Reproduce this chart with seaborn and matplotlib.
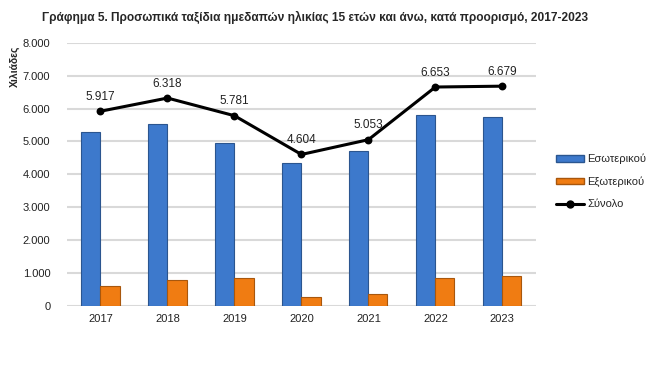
import matplotlib
matplotlib.use("Agg")
import matplotlib.pyplot as plt
from matplotlib.patches import Patch
from matplotlib.lines import Line2D
import seaborn as sns
import pandas as pd

YEARS = ["2017", "2018", "2019", "2020", "2021", "2022", "2023"]
DOMESTIC = [5300, 5525, 4945, 4335, 4700, 5800, 5755]
ABROAD = [617, 793, 836, 269, 353, 853, 924]
TOTAL = [5917, 6318, 5781, 4604, 5053, 6653, 6679]

SERIES_NAMES = ["Εσωτερικού", "Εξωτερικού", "Σύνολο"]
TITLE = "Γράφημα 5. Προσωπικά ταξίδια ημεδαπών ηλικίας 15 ετών και άνω, κατά προορισμό, 2017-2023"
Y_TICKS = [0, 1000, 2000, 3000, 4000, 5000, 6000, 7000, 8000]

BLUE = "#3D79CC"
ORANGE = "#F07C12"


def fmt(v):
    return f"{v:,}".replace(",", ".")


sns.set_theme(style="white")
plt.rcParams["font.family"] = ["Liberation Sans", "DejaVu Sans"]

bars = pd.DataFrame({
    "year": YEARS * 2,
    "value": DOMESTIC + ABROAD,
    "series": [SERIES_NAMES[0]] * len(YEARS) + [SERIES_NAMES[1]] * len(YEARS),
})
line = pd.DataFrame({"year": YEARS, "value": TOTAL})

fig = plt.figure(figsize=(6.53, 3.67), dpi=100)
ax = fig.add_axes([0.1026, 0.1662, 0.718, 0.7175])

sns.barplot(
    data=bars,
    x="year",
    y="value",
    hue="series",
    palette=[BLUE, ORANGE],
    saturation=1,
    width=0.57,
    gap=0,
    linewidth=0,
    legend=False,
    ax=ax,
)
for p in ax.patches:
    fc = p.get_facecolor()
    p.set_edgecolor([c * 0.7 for c in fc[:3]] + [1])
    p.set_linewidth(0.8)

sns.pointplot(
    data=line,
    x="year",
    y="value",
    color="black",
    markers="o",
    markersize=4,
    linewidth=2.2,
    ax=ax,
)

for i, v in enumerate(TOTAL):
    ax.annotate(fmt(v), (i, v), xytext=(0, 6), textcoords="offset points",
                ha="center", va="bottom", fontsize=8.5, color="#222222")

ax.set_ylim(0, 8000)
ax.set_xlim(-0.5, len(YEARS) - 0.5)
ax.set_yticks(Y_TICKS)
ax.set_yticklabels([fmt(t) for t in Y_TICKS], fontsize=8, color="#222222")
ax.tick_params(axis="x", labelsize=8, colors="#222222", length=0, pad=6)
ax.tick_params(axis="y", length=0, pad=12)
ax.set_xlabel("")
ax.set_ylabel("")
ax.yaxis.grid(True, color="#D9D9D9", linewidth=1.5)
ax.set_axisbelow(True)
for s in ax.spines.values():
    s.set_visible(False)

fig.text(0.482, 0.952, TITLE, ha="center", va="center", fontsize=8.6, fontweight="bold")
fig.text(0.023, 0.82, "Χιλιάδες", rotation=90, ha="center", va="center",
         fontsize=7.5, fontweight="bold")

handles = [
    Patch(facecolor=BLUE, edgecolor="#2A5690"),
    Patch(facecolor=ORANGE, edgecolor="#A8560C"),
    Line2D([0], [0], color="black", linewidth=2.2, marker="o", markersize=5),
]
fig.legend(handles, SERIES_NAMES, loc="center left", bbox_to_anchor=(0.845, 0.505),
           frameon=False, fontsize=8, handlelength=2.5, handleheight=0.5,
           labelspacing=1.1, handletextpad=0.3, borderaxespad=0)

fig.savefig("out.png", dpi=100)
